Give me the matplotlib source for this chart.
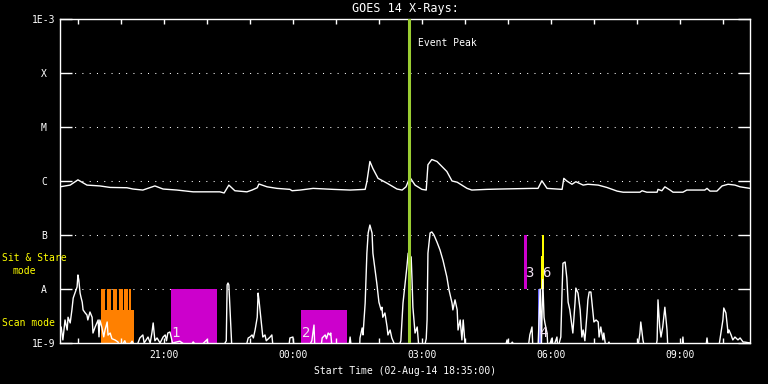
import matplotlib
matplotlib.use("Agg")
from matplotlib import pyplot as plt
from matplotlib.patches import Rectangle

plt.rcParams["font.family"] = ["DejaVu Sans Mono"]

# time axis: decimal hours since 00:00 on 02-Aug-14
t_start = 18.583
t_end = 34.63
event_peak = 26.70

# long channel (1-8 A), W/m^2
long_t = [18.58, 18.82, 19.00, 19.21, 19.51, 19.75, 20.14, 20.28, 20.51, 20.79,
          20.98, 21.30, 21.68, 22.30, 22.40, 22.51, 22.65, 22.93, 23.05, 23.17,
          23.21, 23.40, 23.63, 23.93, 23.98, 24.17, 24.47, 24.93, 25.33, 25.68,
          25.72, 25.79, 25.86, 25.98, 26.19, 26.42, 26.54, 26.63, 26.72, 26.84,
          27.00, 27.10, 27.14, 27.23, 27.35, 27.58, 27.70, 27.82, 28.05, 28.16,
          28.51, 28.82, 29.58, 29.70, 29.79, 29.91, 30.26, 30.30, 30.37, 30.49,
          30.58, 30.75, 30.86, 31.10, 31.30, 31.54, 31.68, 32.07, 32.12, 32.23,
          32.47, 32.49, 32.58, 32.65, 32.77, 32.84, 33.07, 33.16, 33.58, 33.63,
          33.70, 33.86, 33.98, 34.12, 34.28, 34.40, 34.63]
long_flux = [7.8e-7, 8.4e-7, 1.05e-6, 8.4e-7, 8.1e-7, 7.6e-7, 7.5e-7, 7.1e-7, 6.8e-7, 8.1e-7,
             7.1e-7, 6.8e-7, 6.3e-7, 6.3e-7, 6.0e-7, 8.4e-7, 6.6e-7, 6.3e-7, 6.8e-7, 7.5e-7,
             8.8e-7, 7.8e-7, 7.3e-7, 7.0e-7, 6.6e-7, 6.8e-7, 7.3e-7, 7.0e-7, 6.8e-7, 7.0e-7,
             9.7e-7, 2.3e-6, 1.7e-6, 1.12e-6, 9.1e-7, 7.1e-7, 6.8e-7, 7.8e-7, 1.17e-6, 8.4e-7,
             7.0e-7, 6.8e-7, 2.0e-6, 2.5e-6, 2.3e-6, 1.5e-6, 1.0e-6, 9.5e-7, 7.3e-7, 6.8e-7,
             7.0e-7, 7.1e-7, 7.3e-7, 7.3e-7, 1.01e-6, 7.3e-7, 7.0e-7, 1.12e-6, 1.0e-6, 8.7e-7,
             9.7e-7, 8.4e-7, 8.7e-7, 8.4e-7, 7.6e-7, 6.5e-7, 6.2e-7, 6.2e-7, 6.6e-7, 6.2e-7,
             6.2e-7, 7.0e-7, 6.6e-7, 7.8e-7, 6.8e-7, 6.2e-7, 6.2e-7, 6.8e-7, 6.8e-7, 7.3e-7,
             6.5e-7, 6.5e-7, 8.1e-7, 8.7e-7, 8.4e-7, 7.8e-7, 7.3e-7]

# short channel (0.5-4 A), W/m^2
short_t = [18.58, 18.61, 18.65, 18.70, 18.75, 18.77, 18.82, 18.86, 18.89, 18.93,
           18.98, 19.00, 19.02, 19.05, 19.07, 19.10, 19.12, 19.17, 19.21, 19.23,
           19.28, 19.33, 19.35, 19.40, 19.44, 19.47, 19.49, 19.51, 19.56, 19.60,
           19.63, 19.68, 19.70, 19.75, 19.79, 19.86, 19.93, 19.98, 20.09, 20.15,
           20.26, 20.35, 20.44, 20.51, 20.54, 20.63, 20.68, 20.72, 20.75, 20.79,
           20.84, 20.91, 20.98, 21.03, 21.06, 21.09, 21.14, 21.20, 21.37, 21.60,
           21.68, 21.80, 22.00, 22.05, 22.35, 22.45, 22.47, 22.49, 22.51, 22.53,
           22.56, 22.58, 22.90, 22.96, 23.00, 23.05, 23.08, 23.12, 23.17, 23.19,
           23.21, 23.26, 23.30, 23.35, 23.38, 23.47, 23.51, 23.54, 23.90, 23.93,
           24.00, 24.03, 24.35, 24.44, 24.49, 24.51, 24.65, 24.68, 24.75, 24.78,
           24.82, 24.86, 24.88, 24.91, 25.30, 25.33, 25.36, 25.55, 25.56, 25.61,
           25.63, 25.68, 25.72, 25.75, 25.79, 25.84, 25.86, 25.95, 26.00, 26.05,
           26.07, 26.09, 26.14, 26.19, 26.21, 26.26, 26.30, 26.35, 26.45, 26.51,
           26.56, 26.60, 26.65, 26.68, 26.75, 26.77, 26.79, 26.84, 26.89, 26.91,
           26.93, 27.05, 27.10, 27.12, 27.14, 27.19, 27.23, 27.28, 27.35, 27.42,
           27.49, 27.58, 27.63, 27.70, 27.72, 27.77, 27.82, 27.84, 27.89, 27.93,
           27.96, 28.00, 28.05, 28.93, 28.98, 29.03, 29.10, 29.20, 29.47, 29.51,
           29.56, 29.58, 29.70, 29.75, 29.78, 29.81, 29.84, 29.86, 29.91, 29.93,
           30.03, 30.05, 30.14, 30.16, 30.23, 30.26, 30.28, 30.33, 30.37, 30.40,
           30.44, 30.49, 30.51, 30.56, 30.58, 30.63, 30.68, 30.72, 30.75, 30.79,
           30.84, 30.86, 30.89, 30.93, 30.98, 31.00, 31.05, 31.10, 31.12, 31.16,
           31.21, 31.23, 31.28, 31.35, 31.40, 32.02, 32.07, 32.09, 32.14, 32.18,
           32.44, 32.47, 32.49, 32.53, 32.56, 32.60, 32.65, 32.70, 32.72, 33.05,
           33.07, 33.09, 33.60, 33.63, 33.66, 33.90, 33.93, 34.00, 34.02, 34.07,
           34.12, 34.14, 34.19, 34.23, 34.28, 34.35, 34.40, 34.47, 34.51, 34.63]
short_flux = [1.9e-9, 1.98e-9, 1.14e-9, 2.67e-9, 1.74e-9, 3.0e-9, 2.35e-9, 4.1e-9, 6.8e-9, 8.4e-9,
              1.09e-8, 1.82e-8, 1.47e-8, 8.4e-9, 7.1e-9, 5.7e-9, 4.1e-9, 3.6e-9, 3.3e-9, 2.67e-9,
              3.75e-9, 3.0e-9, 1.53e-9, 1.98e-9, 2.35e-9, 2.67e-9, 1.3e-9, 2.67e-9, 1.9e-9, 1.3e-9,
              1.74e-9, 2.45e-9, 1.4e-9, 1.53e-9, 1.2e-9, 1.14e-9, 1.05e-9, 8e-10, 1.1e-9, 8e-10,
              1.08e-9, 8e-10, 1.24e-9, 1.41e-9, 1.0e-9, 1.29e-9, 1.0e-9, 1.53e-9, 2.35e-9, 1.1e-9,
              1.24e-9, 1.0e-9, 1.29e-9, 1.41e-9, 1.1e-9, 1.53e-9, 1.6e-9, 1.0e-9, 1.08e-9, 8e-10,
              1.05e-9, 8e-10, 1.15e-9, 8e-10, 8e-10, 1.1e-9, 1.19e-8, 1.29e-8, 1.19e-8, 5.5e-9,
              1.74e-9, 8e-10, 8e-10, 1.24e-9, 1.29e-9, 1.41e-9, 1.24e-9, 1.74e-9, 3.0e-9, 8.4e-9,
              6.3e-9, 2.67e-9, 1.29e-9, 1.41e-9, 1.1e-9, 1.29e-9, 1.41e-9, 8e-10, 8e-10, 1.24e-9,
              1.29e-9, 8e-10, 8e-10, 1.1e-9, 2.15e-9, 8e-10, 8e-10, 1.24e-9, 1.41e-9, 1.2e-9,
              1.53e-9, 1.41e-9, 1.53e-9, 8e-10, 8e-10, 1.29e-9, 8e-10, 8e-10, 1.24e-9, 1.9e-9,
              1.41e-9, 5.5e-9, 4.6e-8, 1.09e-7, 1.53e-7, 1.09e-7, 4.6e-8, 1.29e-8, 5.7e-9, 4.1e-9,
              4.6e-9, 3.0e-9, 3.6e-9, 1.98e-9, 1.41e-9, 1.74e-9, 1.24e-9, 1.0e-9, 8e-10, 1.1e-9,
              5.5e-9, 1.09e-8, 2.55e-8, 4.6e-8, 3.9e-8, 1.47e-8, 4.6e-9, 1.53e-9, 1.98e-9, 1.24e-9,
              8e-10, 8e-10, 1.2e-9, 2.67e-9, 4.6e-8, 1.09e-7, 1.14e-7, 1.0e-7, 7.4e-8, 5.3e-8,
              3.4e-8, 1.67e-8, 9.6e-9, 5.5e-9, 4.1e-9, 6.3e-9, 4.1e-9, 1.74e-9, 2.67e-9, 1.14e-9,
              2.67e-9, 1.0e-9, 8e-10, 8e-10, 1.14e-9, 8e-10, 1.04e-9, 8e-10, 8e-10, 1.41e-9,
              1.98e-9, 8e-10, 8e-10, 1.0e-8, 1.0e-9, 1.5e-8, 3.0e-9, 2.35e-9, 1.53e-9, 8e-10,
              1.24e-9, 8e-10, 1.29e-9, 8e-10, 1.29e-9, 9.6e-9, 3.0e-8, 3.16e-8, 1.6e-8, 5.7e-9,
              4.1e-9, 1.98e-9, 1.53e-9, 5.5e-9, 1.04e-8, 8.4e-9, 4.1e-9, 1.29e-9, 1.74e-9, 1.1e-9,
              3.6e-9, 6.3e-9, 8.8e-9, 8.8e-9, 3.6e-9, 2.45e-9, 2.67e-9, 2.45e-9, 1.29e-9, 1.98e-9,
              1.14e-9, 1.53e-9, 8e-10, 1.04e-9, 8e-10, 8e-10, 1.53e-9, 2.45e-9, 1.14e-9, 8e-10,
              8e-10, 1.14e-9, 6.3e-9, 1.98e-9, 1.29e-9, 1.98e-9, 4.6e-9, 1.74e-9, 8e-10, 8e-10,
              1.29e-9, 8e-10, 8e-10, 1.24e-9, 8e-10, 8e-10, 1.14e-9, 2.67e-9, 4.45e-9, 3.6e-9,
              1.53e-9, 1.74e-9, 1.41e-9, 1.14e-9, 1.29e-9, 1.14e-9, 1.24e-9, 1.04e-9, 1.04e-9, 1.0e-9]

# observation boxes: (t0, t1, flux low, flux high, colour)
obs_boxes = [
    (19.54, 20.30, 1e-9, 4.1e-9, "#ff8000"),
    (19.54, 19.64, 1e-9, 1e-8, "#ff8000"),
    (19.68, 19.78, 1e-9, 1e-8, "#ff8000"),
    (19.82, 19.92, 1e-9, 1e-8, "#ff8000"),
    (19.96, 20.04, 1e-9, 1e-8, "#ff8000"),
    (20.08, 20.16, 1e-9, 1e-8, "#ff8000"),
    (20.19, 20.23, 1e-9, 1e-8, "#ff8000"),
    (21.16, 22.23, 1e-9, 1e-8, "#cc00cc"),
    (24.19, 25.26, 1e-9, 4.1e-9, "#cc00cc"),
    (29.37, 29.44, 1e-8, 1e-7, "#cc00cc"),
    (29.71, 29.77, 1e-9, 1e-8, "#6666ff"),
    (29.76, 29.83, 1e-8, 4.1e-8, "#ffff00"),
    (29.80, 29.83, 1e-8, 1e-7, "#ffff00"),
]
obs_labels = [("1", 21.26, 1.5e-9), ("2", 24.30, 1.5e-9), ("3", 29.49, 2.0e-8),
              ("6", 29.90, 2.0e-8), ("4", 29.82, 1.5e-9)]

ytick_vals = [1e-9, 1e-8, 1e-7, 1e-6, 1e-5, 1e-4, 1e-3]
ytick_text = ["1E-9", "A", "B", "C", "M", "X", "1E-3"]
xtick_vals = [21, 24, 27, 30, 33]
xtick_text = ["21:00", "00:00", "03:00", "06:00", "09:00"]

W, H = 768, 384
fig = plt.figure(figsize=(W / 100, H / 100), dpi=100, facecolor="black")
ax = fig.add_axes([60 / W, 1 - 343 / H, 690 / W, 324 / H], facecolor="black")

ax.set_yscale("log")
ax.set_ylim(1e-9, 1e-3)
ax.set_xlim(t_start, t_end)

for t0, t1, lo, hi, c in obs_boxes:
    ax.add_patch(Rectangle((t0, lo), t1 - t0, hi - lo, facecolor=c, edgecolor="none", zorder=1))

# dotted class levels
for v in ytick_vals[1:-1]:
    ax.axhline(v, color="white", lw=0.75, linestyle=(0, (1, 6)), zorder=0.5)

ax.plot(long_t, long_flux, color="white", lw=1.0, zorder=2)
ax.plot(short_t, short_flux, color="white", lw=1.0, zorder=2)

ax.axvline(event_peak, color="#9acd32", lw=2.2, zorder=3)
ax.text(event_peak + 0.21, 10 ** (-9 + (343 - 43) / 54), "Event Peak", color="white",
        fontsize=7, va="center", ha="left")

for s, t, f in obs_labels:
    ax.text(t, f, s, color="#f0e0f0", fontsize=10, ha="center", va="center", zorder=4)

for sp in ax.spines.values():
    sp.set_color("white")
    sp.set_linewidth(1)

ax.set_yticks(ytick_vals)
ax.set_yticklabels(ytick_text)
ax.minorticks_off()
ax.tick_params(axis="y", which="major", direction="in", length=8.6, width=1,
               colors="white", left=True, right=True, labelsize=7, pad=11.5)
for lab in ax.get_yticklabels():
    lab.set_horizontalalignment("center")

ax.set_xticks(xtick_vals)
ax.set_xticklabels(xtick_text)
ax.set_xticks(list(range(19, 35)), minor=True)
ax.tick_params(axis="x", which="both", direction="in", length=3.6, width=1,
               colors="white", top=True, bottom=True, labelsize=7, pad=5)

ax.set_title("GOES 14 X-Rays:", color="white", fontsize=8.5, pad=5)
ax.set_xlabel("Start Time (02-Aug-14 18:35:00)", color="white", fontsize=7, labelpad=4)

fig.text(2 / W, 1 - 258 / H, "Sit & Stare", color="yellow", fontsize=7, va="center", ha="left")
fig.text(24 / W, 1 - 271 / H, "mode", color="yellow", fontsize=7, va="center", ha="center")
fig.text(2 / W, 1 - 323 / H, "Scan mode", color="yellow", fontsize=7, va="center", ha="left")

fig.savefig("out.png", dpi=100, facecolor="black")
